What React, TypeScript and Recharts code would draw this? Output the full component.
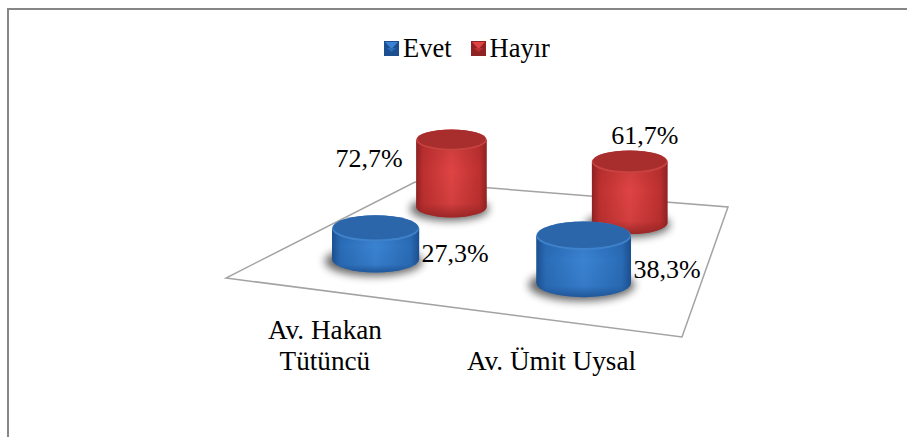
import { Bar, BarChart, LabelList, Legend, XAxis, YAxis } from "recharts";

const categories = ["Av. Hakan Tütüncü", "Av. Ümit Uysal"];
const evet = [27.3, 38.3];
const hayir = [72.7, 61.7];
const tickLines = [["Av. Hakan", "Tütüncü"], ["Av. Ümit Uysal"]];

const WIDTH = 907;
const HEIGHT = 437;
const PLOT = { left: 250, top: 150, width: 400, height: 122 };
const BAR_SIZE = 93;
const FONT = "'Liberation Serif', 'Times New Roman', serif";

// her serinin zemindeki sırası: derinlik ve yatay yayılım
const ROW_EVET = { depth: 0.227, spread: 1.01, shift: -0.0005 };
const ROW_HAYIR = { depth: 0.74, spread: 1.05, shift: -0.0275 };

const rows = categories.map((name, i) => ({ name, evet: evet[i], hayir: hayir[i] }));

// zemin köşeleri (ön sol, ön sağ, arka sağ, arka sol)
const FLOOR = [
  [226, 278],
  [682, 337],
  [728, 207],
  [415, 182],
];

// birim kareden zemine perspektif dönüşümü
function makeProjection() {
  const [[x0, y0], [x1, y1], [x2, y2], [x3, y3]] = FLOOR;
  const dx1 = x1 - x2;
  const dx2 = x3 - x2;
  const sx = x0 - x1 + x2 - x3;
  const dy1 = y1 - y2;
  const dy2 = y3 - y2;
  const sy = y0 - y1 + y2 - y3;
  const det = dx1 * dy2 - dx2 * dy1;
  const g = (sx * dy2 - dx2 * sy) / det;
  const h = (dx1 * sy - sx * dy1) / det;
  const a = x1 - x0 + g * x1;
  const b = x3 - x0 + h * x3;
  const d = y1 - y0 + g * y1;
  const e = y3 - y0 + h * y3;
  return (u: number, v: number) => {
    const w = g * u + h * v + 1;
    return { x: (a * u + b * v + x0) / w, y: (d * u + e * v + y0) / w, scale: 1 / w };
  };
}
const project = makeProjection();

const toU = (screenX: number) => (screenX - PLOT.left) / PLOT.width;

function barBase(props: any) {
  const { x, width, row } = props;
  return project(toU(x + width / 2) * row.spread + row.shift, row.depth);
}

const PALETTE: Record<string, { edge: string; mid: string; glow: string; top: string; rim: string }> = {
  blue: { edge: "#1c4f8f", mid: "#2a6cb6", glow: "#3a83d2", top: "#2b66aa", rim: "#3f82cc" },
  red: { edge: "#8f2222", mid: "#bd3030", glow: "#df4444", top: "#a82d2d", rim: "#c94242" },
};

function Defs() {
  return (
    <defs>
      <filter id="soft" x="-30%" y="-60%" width="160%" height="220%">
        <feGaussianBlur stdDeviation="4" />
      </filter>
      {Object.entries(PALETTE).map(([key, c]) => (
        <g key={key}>
          <linearGradient id={`${key}-body`} x1="0" x2="1" y1="0" y2="0">
            <stop offset="0" stopColor={c.edge} />
            <stop offset="0.1" stopColor={c.mid} />
            <stop offset="0.5" stopColor={c.glow} />
            <stop offset="0.9" stopColor={c.mid} />
            <stop offset="1" stopColor={c.edge} />
          </linearGradient>
          <linearGradient id={`${key}-foot`} x1="0" x2="0" y1="0" y2="1">
            <stop offset="0" stopColor={c.edge} stopOpacity="0.25" />
            <stop offset="0.4" stopColor={c.edge} stopOpacity="0" />
            <stop offset="0.82" stopColor={c.edge} stopOpacity="0.15" />
            <stop offset="1" stopColor={c.edge} stopOpacity="0.85" />
          </linearGradient>
        </g>
      ))}
    </defs>
  );
}

function Cylinder(props: any) {
  const { width, height, tone } = props;
  const base = barBase(props);
  const rx = (width / 2) * base.scale;
  const ry = rx * 0.3;
  const top = base.y - height * base.scale;
  const side = `M${base.x - rx},${top} L${base.x - rx},${base.y} A${rx},${ry} 0 0 0 ${base.x + rx},${base.y} L${base.x + rx},${top} Z`;
  const c = PALETTE[tone];
  return (
    <g>
      <ellipse cx={base.x - 2} cy={base.y + 2} rx={rx * 1.12} ry={ry * 1.12} fill="#000" opacity={0.6} filter="url(#soft)" />
      <path d={side} fill={`url(#${tone}-body)`} />
      <path d={side} fill={`url(#${tone}-foot)`} />
      <ellipse cx={base.x} cy={top} rx={rx} ry={ry} fill={c.rim} />
      <ellipse cx={base.x} cy={top - 1} rx={rx - 1} ry={ry - 1} fill={c.top} />
    </g>
  );
}

// etiket yerleşimi: silindirin tepesine veya yanına
function CylinderLabel(props: any) {
  const { width, height, value, index, placements } = props;
  const base = barBase(props);
  const rx = (width / 2) * base.scale;
  const top = base.y - height * base.scale;
  const place = placements[index];
  let tx = base.x + 15;
  let ty = top - 18;
  if (place === "left") {
    tx = base.x - rx - 14 - 33;
    ty = top + 27;
  } else if (place === "right") {
    tx = base.x + rx + 3 + 33;
    ty = (top + base.y) / 2 + 18.5;
  }
  return (
    <text x={tx} y={ty} textAnchor="middle" fontFamily={FONT} fontSize={26} fill="#000">
      {`${value.toFixed(1).replace(".", ",")}%`}
    </text>
  );
}

function CategoryTick(props: any) {
  const { x, payload, index } = props;
  const foot = project(toU(x), 0);
  const lines = tickLines[index] ?? [payload.value];
  return (
    <text textAnchor="middle" fontFamily={FONT} fontSize={27.2} fill="#000">
      {lines.map((line: string, i: number) => (
        <tspan key={line} x={foot.x} y={370 - (lines.length - 1 - i) * 31}>
          {line}
        </tspan>
      ))}
    </text>
  );
}

function LegendSwatch({ tone }: { tone: string }) {
  const c = PALETTE[tone];
  return (
    <svg width={15} height={15} style={{ marginRight: 4 }}>
      <rect width={15} height={15} fill={c.edge} />
      <polygon points="1,1 14,1 7.5,8" fill={c.glow} />
      <polygon points="3,7 12,7 7.5,11" fill={c.mid} />
    </svg>
  );
}

function LegendBox() {
  return (
    <div style={{ height: 0, overflow: "visible" }}>
      <div style={{ display: "flex", justifyContent: "center", alignItems: "center", fontFamily: FONT, fontSize: 26.5, color: "#000", lineHeight: "30px", paddingLeft: 34 }}>
        <LegendSwatch tone="blue" />
        <span style={{ marginRight: 19 }}>Evet</span>
        <LegendSwatch tone="red" />
        <span>Hayır</span>
      </div>
    </div>
  );
}

export default function App() {
  return (
    <div style={{ position: "absolute", left: 0, top: 0, width: WIDTH, height: HEIGHT, overflow: "hidden", background: "#fff" }}>
      <div style={{ position: "absolute", left: 7, top: 8, right: 0, height: 2, background: "#868686" }} />
      <div style={{ position: "absolute", left: 7, top: 8, bottom: 0, width: 2, background: "#868686" }} />
      <BarChart
        width={WIDTH}
        height={HEIGHT}
        data={rows}
        margin={{ left: PLOT.left, top: PLOT.top, right: WIDTH - PLOT.left - PLOT.width, bottom: HEIGHT - PLOT.top - PLOT.height }}
        barSize={BAR_SIZE}
        barGap={-BAR_SIZE}
        style={{ position: "absolute", left: 0, top: 0 }}
      >
        <Defs />
        <polygon points={FLOOR.map((p) => p.join(",")).join(" ")} fill="#fff" stroke="#a3a3a3" strokeWidth={1.5} />
        <XAxis dataKey="name" height={1} axisLine={false} tickLine={false} tick={(p: any) => <CategoryTick {...p} />} interval={0} />
        <YAxis hide domain={[0, 100]} width={0} />
        <Legend height={0} verticalAlign="top" wrapperStyle={{ top: 33 }} content={<LegendBox />} />
        <Bar dataKey="hayir" isAnimationActive={false} shape={<Cylinder row={ROW_HAYIR} tone="red" />}>
          <LabelList dataKey="hayir" content={<CylinderLabel row={ROW_HAYIR} placements={["left", "top"]} />} />
        </Bar>
        <Bar dataKey="evet" isAnimationActive={false} shape={<Cylinder row={ROW_EVET} tone="blue" />}>
          <LabelList dataKey="evet" content={<CylinderLabel row={ROW_EVET} placements={["right", "right"]} />} />
        </Bar>
      </BarChart>
    </div>
  );
}
